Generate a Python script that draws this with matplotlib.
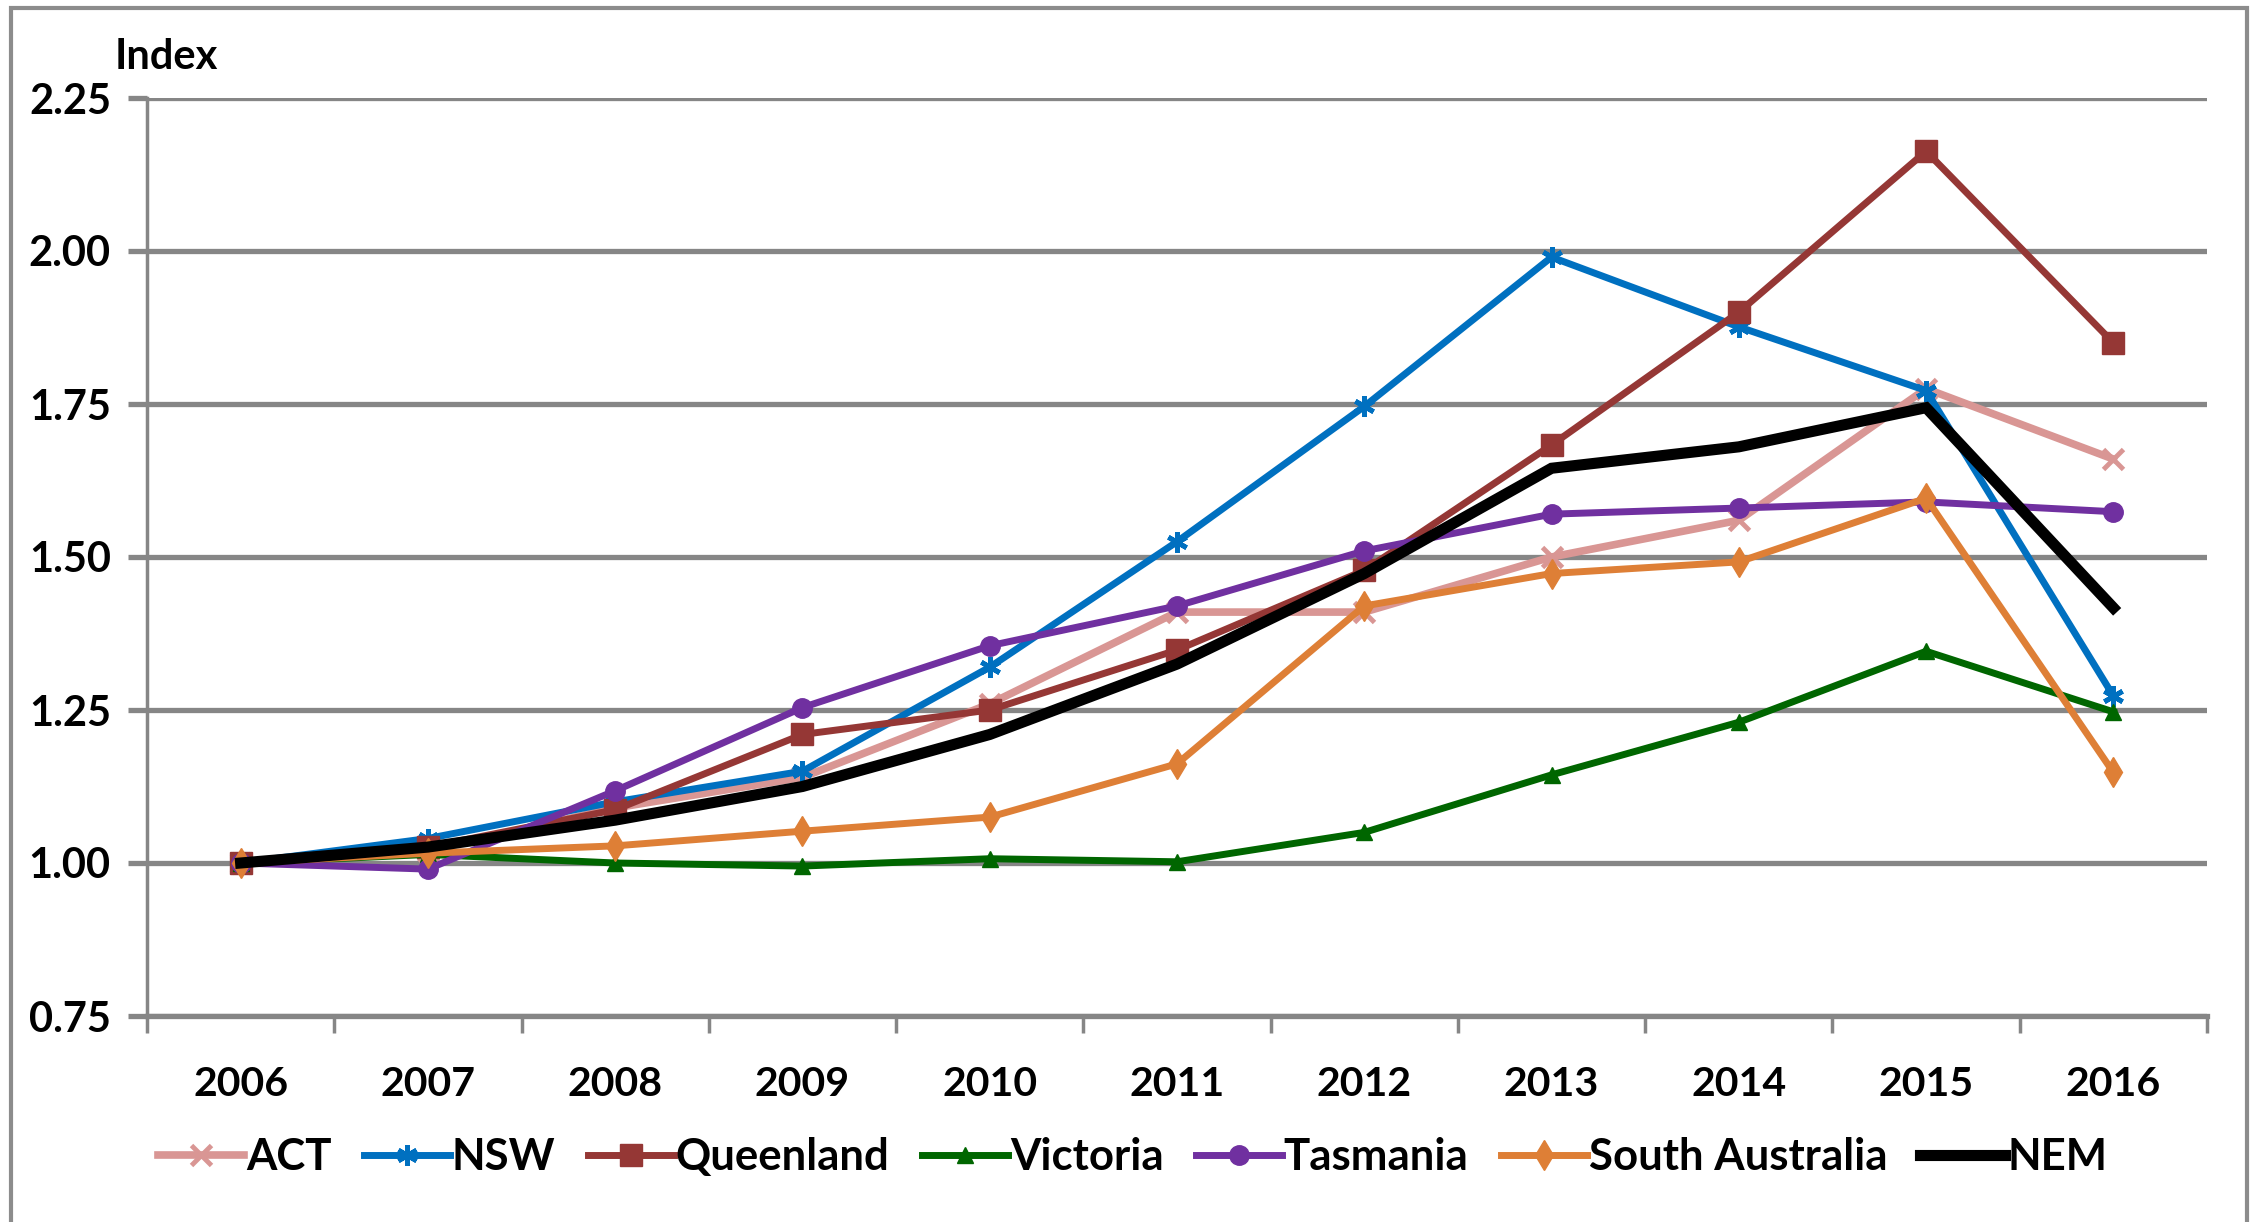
import matplotlib
matplotlib.use("Agg")
import matplotlib.pyplot as plt
from matplotlib.patches import Rectangle

years = ["2006", "2007", "2008", "2009", "2010", "2011", "2012", "2013", "2014", "2015", "2016"]
act = [1.00, 1.02, 1.09, 1.14, 1.26, 1.41, 1.41, 1.50, 1.56, 1.775, 1.66]
nsw = [1.00, 1.04, 1.10, 1.15, 1.32, 1.525, 1.746, 1.99, 1.876, 1.772, 1.273]
queensland = [1.00, 1.026, 1.087, 1.21, 1.25, 1.348, 1.478, 1.683, 1.90, 2.163, 1.85]
victoria = [1.00, 1.014, 1.00, 0.995, 1.007, 1.002, 1.05, 1.144, 1.23, 1.346, 1.247]
tasmania = [1.00, 0.99, 1.118, 1.254, 1.355, 1.42, 1.51, 1.57, 1.58, 1.59, 1.574]
south_australia = [1.00, 1.016, 1.028, 1.052, 1.075, 1.162, 1.42, 1.473, 1.492, 1.596, 1.148]
nem = [1.00, 1.026, 1.07, 1.125, 1.21, 1.325, 1.473, 1.645, 1.68, 1.744, 1.417]
y_ticks = [0.75, 1.00, 1.25, 1.50, 1.75, 2.00, 2.25]

plt.rcParams['font.family'] = ['Lato', 'DejaVu Sans']
plt.rcParams['font.weight'] = 'bold'

W, H = 2259, 1222
fig = plt.figure(figsize=(W / 100, H / 100), dpi=100)
ax = fig.add_axes([147 / W, 1 - 1016 / H, (2207 - 147) / W, (1016 - 98) / H])

grid_c = '#868686'
series = [
    ("ACT", act, '#D99694', 'x', 14, 5.5, 3.5),
    ("NSW", nsw, '#0070C0', (6, 2, 0), 15, 5.0, 3.5),
    ("Queenland", queensland, '#953735', 's', 16, 5.0, 1.0),
    ("Victoria", victoria, '#006600', '^', 12, 5.0, 1.0),
    ("Tasmania", tasmania, '#7030A0', 'o', 14, 5.0, 1.0),
    ("South Australia", south_australia, '#DE7F36', 'd', 15, 5.0, 1.0),
    ("NEM", nem, '#000000', None, 0, 8.0, 1.0),
]
x = list(range(len(years)))
for i, (name, vals, col, mk, ms, lw, mew) in enumerate(series):
    ax.plot(x, vals, color=col, lw=lw, marker=mk, ms=ms, mec=col, mfc=col,
            mew=mew, label=name, zorder=3 + i, solid_joinstyle='miter')

ax.set_ylim(0.75, 2.25)
ax.set_xlim(-0.5, len(years) - 0.5)
ax.set_yticks(y_ticks)
ax.set_yticklabels([f"{v:.2f}" for v in y_ticks], fontsize=30)
ax.yaxis.grid(True, color=grid_c, lw=3.8, zorder=1)
ax.tick_params(axis='y', length=14, width=3.8, color=grid_c, pad=12, direction='out')

ax.set_xticks([i - 0.5 for i in range(len(years) + 1)])
ax.set_xticklabels([])
ax.set_xticks(x, minor=True)
ax.set_xticklabels(years, minor=True, fontsize=29.5)
ax.tick_params(axis='x', which='major', length=12, width=2.5, color=grid_c, direction='out')
ax.tick_params(axis='x', which='minor', length=0, pad=36)

for s in ['top', 'right']:
    ax.spines[s].set_visible(False)
ax.spines['left'].set_color(grid_c)
ax.spines['left'].set_linewidth(2.5)
ax.spines['bottom'].set_color(grid_c)
ax.spines['bottom'].set_linewidth(3.8)

fig.text(115 / W, 1 - 57 / H, "Index", fontsize=30, va='center', ha='left')

leg = fig.legend(loc='center', bbox_to_anchor=(1133 / W, 1 - 1157 / H), ncol=7,
                 frameon=False, fontsize=31.5, handlelength=1.95, handletextpad=0.05,
                 columnspacing=0.75, borderaxespad=0)

fig.patches.append(Rectangle((11 / W, -0.05), (2247 - 11) / W, 1 - 8 / H + 0.05,
                             transform=fig.transFigure, fill=False, ec='#8c8c8c', lw=3))

fig.savefig("out.png", dpi=100)
